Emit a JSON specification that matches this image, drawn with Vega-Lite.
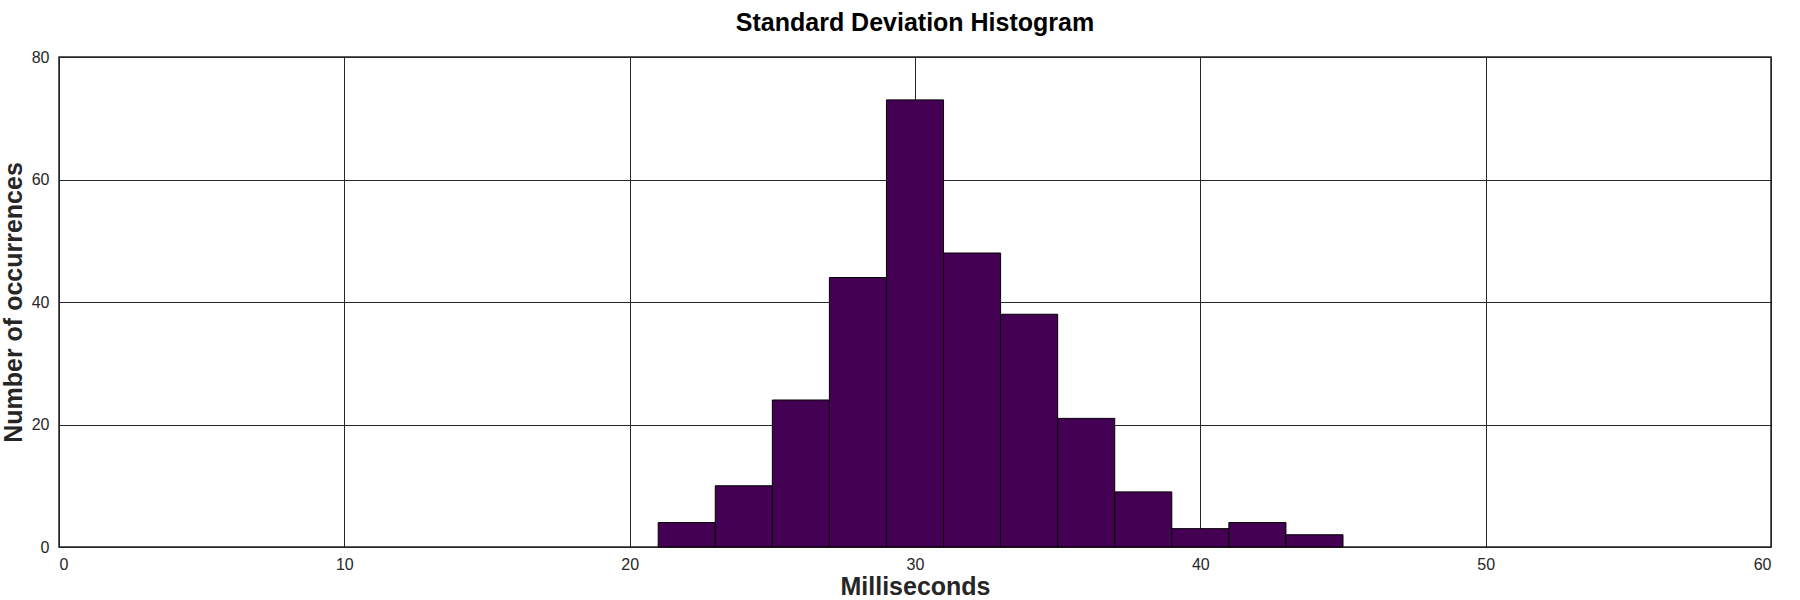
{
  "$schema": "https://vega.github.io/schema/vega-lite/v6.json",
  "autosize": {"type": "none"},
  "width": 1712,
  "height": 490,
  "padding": {"left": 59, "top": 57, "right": 29, "bottom": 53},
  "background": "white",
  "title": {
    "text": "Standard Deviation Histogram",
    "font": "Liberation Sans",
    "fontSize": 25,
    "fontWeight": "bold",
    "color": "#000000",
    "anchor": "middle",
    "frame": "group",
    "offset": 13
  },
  "data": {
    "values": [
      {"bin_start": 21, "bin_end": 23, "count": 4},
      {"bin_start": 23, "bin_end": 25, "count": 10},
      {"bin_start": 25, "bin_end": 27, "count": 24},
      {"bin_start": 27, "bin_end": 29, "count": 44},
      {"bin_start": 29, "bin_end": 31, "count": 73},
      {"bin_start": 31, "bin_end": 33, "count": 48},
      {"bin_start": 33, "bin_end": 35, "count": 38},
      {"bin_start": 35, "bin_end": 37, "count": 21},
      {"bin_start": 37, "bin_end": 39, "count": 9},
      {"bin_start": 39, "bin_end": 41, "count": 3},
      {"bin_start": 41, "bin_end": 43, "count": 4},
      {"bin_start": 43, "bin_end": 45, "count": 2}
    ]
  },
  "mark": {"type": "bar", "fill": "#440154", "stroke": "#000000", "strokeWidth": 1, "opacity": 1},
  "encoding": {
    "x": {
      "field": "bin_start",
      "type": "quantitative",
      "scale": {"domain": [0, 60], "nice": false, "zero": false},
      "axis": {
        "title": "Milliseconds",
        "values": [0, 10, 20, 30, 40, 50, 60],
        "labelPadding": 9,
        "titlePadding": 2
      }
    },
    "x2": {"field": "bin_end"},
    "y": {
      "field": "count",
      "type": "quantitative",
      "scale": {"domain": [0, 80], "nice": false},
      "axis": {
        "title": "Number of occurrences",
        "values": [0, 20, 40, 60, 80],
        "labelPadding": 10,
        "titlePadding": 5
      }
    },
    "y2": {"datum": 0}
  },
  "config": {
    "view": {"stroke": "#262626", "strokeWidth": 1.5},
    "axis": {
      "domain": false,
      "ticks": false,
      "grid": true,
      "gridColor": "#262626",
      "gridOpacity": 1,
      "gridWidth": 1,
      "labelFont": "Liberation Sans",
      "labelFontSize": 16,
      "labelColor": "#262626",
      "titleFont": "Liberation Sans",
      "titleFontSize": 25,
      "titleFontWeight": "bold",
      "titleColor": "#262626"
    }
  }
}
